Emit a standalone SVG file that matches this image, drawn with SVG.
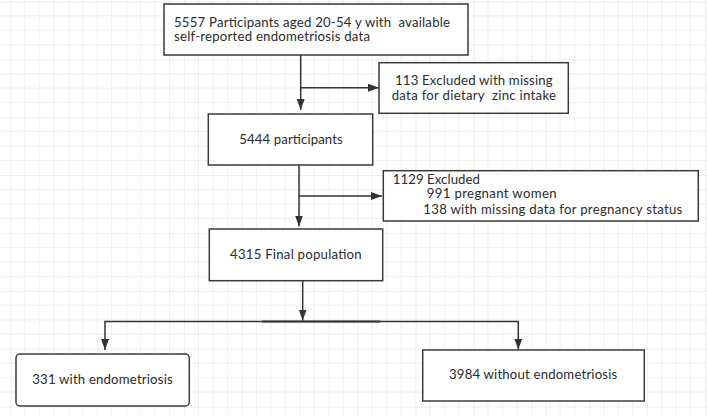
<svg xmlns="http://www.w3.org/2000/svg" width="708" height="416" viewBox="0 0 708 416">
<style>
.box{fill:#ffffff;stroke:#3a3a3a;stroke-width:1.5}
.t{font-family:Lato,"Open Sans",sans-serif;font-size:13.2px;fill:#2b2b2b}
.c{fill:none;stroke:#333333;stroke-width:1.5}
</style>
<defs>
<pattern id="grid" patternUnits="userSpaceOnUse" x="10.4" y="1.4" width="57.88" height="57.88">
<path d="M14.47 0V57.88M28.94 0V57.88M43.41 0V57.88M0 14.47H57.88M0 28.94H57.88M0 43.41H57.88" stroke="#efefef" stroke-width="1" fill="none"/>
<path d="M0 0V57.88M0 0H57.88" stroke="#e0e0e0" stroke-width="1" fill="none"/>
</pattern>
<marker id="arr" markerUnits="userSpaceOnUse" markerWidth="12" markerHeight="9" refX="11" refY="4" orient="auto">
<path d="M0,0 L11,4 L0,8 z" fill="#333333"/>
</marker>
</defs>
<rect x="0" y="0" width="708" height="416" fill="#ffffff"/>
<rect x="0" y="0" width="708" height="416" fill="url(#grid)"/>
<g id="connectors">
<line class="c" x1="300.7" y1="55" x2="300.7" y2="110" marker-end="url(#arr)"/>
<line class="c" x1="300.7" y1="87.7" x2="379" y2="87.7" marker-end="url(#arr)"/>
<line class="c" x1="299" y1="165" x2="299" y2="226.5" marker-end="url(#arr)"/>
<line class="c" x1="299" y1="196" x2="382" y2="196" marker-end="url(#arr)"/>
<line class="c" x1="302.7" y1="280.7" x2="302.7" y2="320.5" marker-end="url(#arr)"/>
<line class="c" x1="104.3" y1="321.5" x2="519" y2="321.5"/>
<line class="c" x1="262" y1="321.5" x2="380.5" y2="321.5" style="stroke-width:2"/>
<line class="c" x1="105" y1="321.5" x2="105" y2="350" marker-end="url(#arr)"/>
<line class="c" x1="518.3" y1="321.5" x2="518.3" y2="349.5" marker-end="url(#arr)"/>
</g>
<g id="n1">
<rect class="box" x="164" y="4" width="304" height="51"/>
<text class="t" x="174" y="26.7" textLength="276" lengthAdjust="spacing" xml:space="preserve">5557 Participants aged 20-54 y with  available</text>
<text class="t" x="174" y="41.3" textLength="196" lengthAdjust="spacing">self-reported endometriosis data</text>
</g>
<g id="n2">
<rect class="box" x="379" y="62.7" width="189.3" height="50.6"/>
<text class="t" x="395" y="84.8" textLength="157.7" lengthAdjust="spacing">113 Excluded with missing</text>
<text class="t" x="391.7" y="99.6" textLength="164.3" lengthAdjust="spacing" xml:space="preserve">data for dietary  zinc intake</text>
</g>
<g id="n3">
<rect class="box" x="208.3" y="114" width="164.4" height="51"/>
<text class="t" x="239.3" y="144" textLength="103.4" lengthAdjust="spacing">5444 participants</text>
</g>
<g id="n4">
<rect class="box" x="383.3" y="170.7" width="315" height="50.3"/>
<text class="t" x="392.7" y="184.3" textLength="87.3" lengthAdjust="spacing">1129 Excluded</text>
<text class="t" x="426.7" y="198.3" textLength="130" lengthAdjust="spacing">991 pregnant women</text>
<text class="t" x="423.3" y="214" textLength="259" lengthAdjust="spacing">138 with missing data for pregnancy status</text>
</g>
<g id="n5">
<rect class="box" x="209.3" y="229" width="173.4" height="51.7"/>
<text class="t" x="230" y="259" textLength="131.7" lengthAdjust="spacing">4315 Final population</text>
</g>
<g id="n6">
<rect class="box" x="16" y="354" width="173.3" height="52" rx="4"/>
<text class="t" x="32.3" y="384" textLength="140.4" lengthAdjust="spacing">331 with endometriosis</text>
</g>
<g id="n7">
<rect class="box" x="422.7" y="350" width="221.6" height="51"/>
<text class="t" x="449" y="379.3" textLength="168.3" lengthAdjust="spacing">3984 without endometriosis</text>
</g>
</svg>
